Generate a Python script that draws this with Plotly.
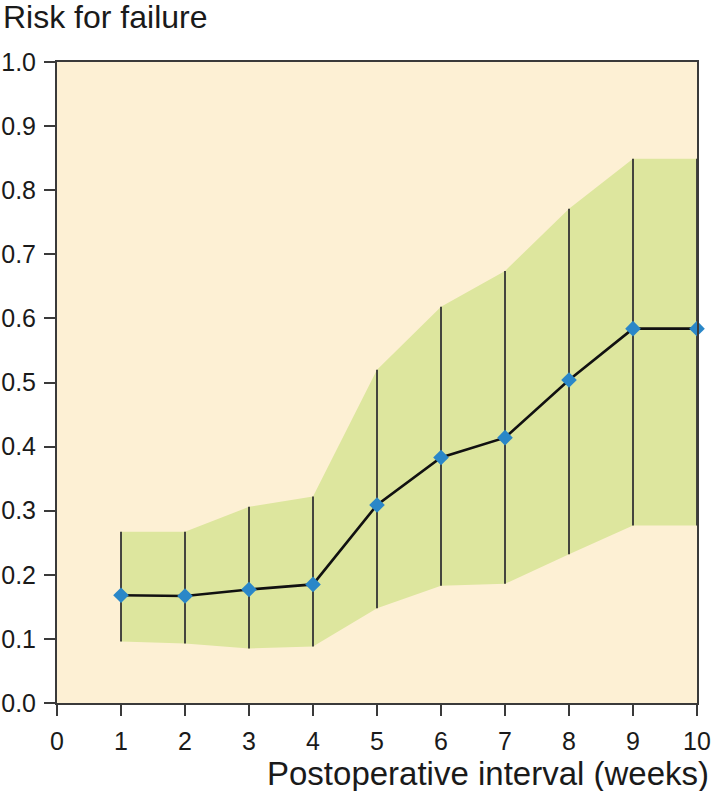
import plotly.graph_objects as go

weeks = [1, 2, 3, 4, 5, 6, 7, 8, 9, 10]
risk = [0.168, 0.167, 0.177, 0.185, 0.309, 0.383, 0.414, 0.504, 0.584, 0.584]
lower = [0.096, 0.093, 0.085, 0.088, 0.148, 0.183, 0.186, 0.232, 0.277, 0.277]
upper = [0.267, 0.267, 0.306, 0.322, 0.520, 0.618, 0.674, 0.771, 0.849, 0.849]
x_ticks = [0, 1, 2, 3, 4, 5, 6, 7, 8, 9, 10]
y_ticks = [0.0, 0.1, 0.2, 0.3, 0.4, 0.5, 0.6, 0.7, 0.8, 0.9, 1.0]
y_tick_labels = [f"{v:.1f}" for v in y_ticks]

FONT = "Liberation Sans, Arial, sans-serif"
W, H = 714, 791
ML, MR, MT, MB = 57, 17, 62, 88
PW = W - ML - MR
PH = H - MT - MB

fig = go.Figure()

# confidence band
fig.add_trace(go.Scatter(
    x=weeks + weeks[::-1],
    y=upper + lower[::-1],
    fill="toself",
    fillcolor="#dde69e",
    line=dict(width=0),
    mode="lines",
    hoverinfo="skip",
    showlegend=False,
))

# error bars (vertical lines)
fig.add_trace(go.Scatter(
    x=weeks,
    y=risk,
    mode="markers",
    marker=dict(size=1, color="rgba(0,0,0,0)"),
    error_y=dict(
        type="data",
        symmetric=False,
        array=[u - r for u, r in zip(upper, risk)],
        arrayminus=[r - l for r, l in zip(risk, lower)],
        thickness=1.8,
        width=0,
        color="#333333",
    ),
    showlegend=False,
    cliponaxis=False,
))

# main line with diamond markers
fig.add_trace(go.Scatter(
    x=weeks,
    y=risk,
    mode="lines+markers",
    line=dict(color="#111111", width=2.6),
    marker=dict(symbol="diamond", size=12, color="#2a87c8"),
    showlegend=False,
    cliponaxis=False,
))

axis_common = dict(
    showgrid=False,
    zeroline=False,
    showline=True,
    linecolor="#3a3a3a",
    linewidth=2,
    mirror=True,
    ticks="outside",
    ticklen=11,
    tickwidth=2,
    tickcolor="#3a3a3a",
    automargin=False,
    tickfont=dict(family=FONT, size=25, color="#1a1a1a"),
)

fig.update_xaxes(range=[0, 10], tickvals=x_ticks, ticklabelstandoff=4, **axis_common)
fig.update_yaxes(range=[0, 1], tickvals=y_ticks, ticktext=y_tick_labels, ticklabelstandoff=3, **axis_common)

fig.update_layout(
    width=W,
    height=H,
    margin=dict(l=ML, r=MR, t=MT, b=MB, pad=0, autoexpand=False),
    paper_bgcolor="white",
    plot_bgcolor="#fdf0d4",
    annotations=[
        dict(
            text="Risk for failure",
            xref="paper", yref="paper",
            x=(1 - ML) / PW, y=1 + (MT - 17) / PH,
            xanchor="left", yanchor="middle",
            showarrow=False,
            font=dict(family=FONT, size=32, color="#1a1a1a"),
        ),
        dict(
            text="Postoperative interval (weeks)",
            xref="paper", yref="paper",
            x=(711 - ML) / PW, y=-(773 - (H - MB)) / PH,
            xanchor="right", yanchor="middle",
            showarrow=False,
            font=dict(family=FONT, size=33, color="#1a1a1a"),
        ),
    ],
)

fig.write_html(
    "out.html",
    config={"displayModeBar": False},
    post_script="document.body.style.margin='0';document.body.style.overflow='hidden';",
)
